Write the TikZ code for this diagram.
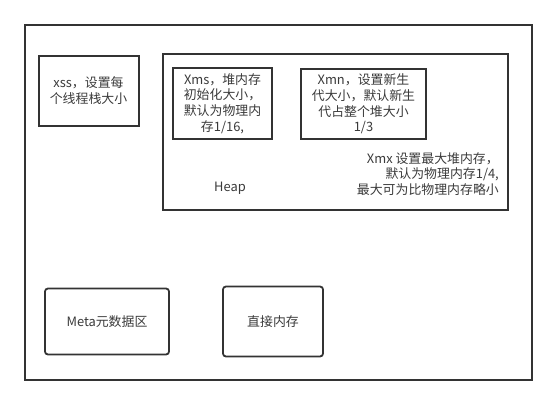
\documentclass[tikz,border=0pt]{standalone}
\usepackage{fontspec}
\setmainfont{Noto Sans CJK SC}
\definecolor{ink}{HTML}{333333}
\definecolor{txt}{HTML}{3A3A3A}
\tikzset{
  box/.style={draw=ink, line width=2pt, inner sep=0pt, text=txt, align=center,
              font=\fontsize{12.9}{15.7}\selectfont},
  rbox/.style={box, rounded corners=3pt, line width=1.8pt},
  lbl/.style={text=txt, inner sep=0pt, font=\fontsize{12.9}{15.7}\selectfont}
}
\begin{document}
\begin{tikzpicture}[x=1pt,y=-1pt]
\useasboundingbox (0,0) rectangle (557,405);
\node (outer) [box, minimum width=507pt, minimum height=355pt] at (278.5,202.5) {};
\node (xss) [box, minimum width=100pt, minimum height=70pt] at (88.5,90.5) {xss，设置每\\个线程栈大小};
\node (heap) [box, line width=1.8pt, minimum width=345pt, minimum height=156pt] at (335.5,132) {};
\node (xms) [box, minimum width=99pt, minimum height=71pt] at (222.5,103.5) {Xms，堆内存\\初始化大小，\\默认为物理内\\存1/16,};
\node (xmn) [box, minimum width=125pt, minimum height=70pt] at (363.5,104) {Xmn，设置新生\\代大小，默认新生\\代占整个堆大小\\1/3};
\node (heaplbl) [lbl] at (230,188) {Heap};
\node (xmx) [lbl, align=right, anchor=east] at (499,174) {Xmx 设置最大堆内存，\\默认为物理内存1/4,\\最大可为比物理内存略小};
\node (meta) [rbox, minimum width=124pt, minimum height=66pt] at (107,321.5) {Meta元数据区};
\node (direct) [rbox, minimum width=100pt, minimum height=70pt] at (273,321.5) {直接内存};
\end{tikzpicture}
\end{document}
